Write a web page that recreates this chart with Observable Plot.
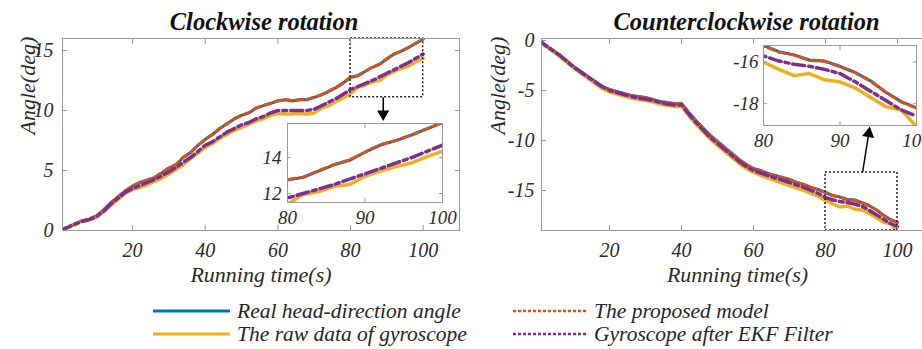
<!DOCTYPE html>
<html><head><meta charset="utf-8">
<script src="https://cdn.jsdelivr.net/npm/d3@7"></script>
<script src="https://cdn.jsdelivr.net/npm/@observablehq/plot@0.6"></script>
<style>
html,body{margin:0;padding:0;background:#fff;}
#root{position:relative;width:922px;height:349px;overflow:hidden;background:#fff;font-family:"Liberation Serif","Times New Roman",Times,Tinos,"Noto Serif","DejaVu Serif",serif;font-style:italic;}
#root > .p{position:absolute;}
.leg{position:absolute;display:flex;align-items:center;font-size:21.5px;color:#262626;white-space:nowrap;line-height:20px;height:20px;}
.leg svg{margin-right:7px;}
</style></head><body><div id="root"></div>
<script>
// ---- data ----
const time = [0,2,4,6,8,10,12,14,16,18,20,22,24,26,28,30,32,34,36,38,40,42,44,46,48,50,52,54,56,58,60,62,64,66,68,70,72,74,76,78,80,82,84,86,88,90,92,94,96,98,100];

const seriesNames = ["Real head-direction angle", "The raw data of gyroscope", "The proposed model", "Gyroscope after EKF Filter"];

// Clockwise rotation
const cwReal     = [0,0.25,0.55,0.8,0.95,1.2,1.7,2.3,2.8,3.3,3.7,4.0,4.2,4.4,4.8,5.2,5.5,6.1,6.5,7.1,7.6,8.0,8.5,8.9,9.3,9.6,9.8,10.2,10.4,10.6,10.8,10.9,10.8,10.9,10.9,11.1,11.3,11.6,11.9,12.3,12.75,12.9,13.25,13.6,13.85,14.3,14.7,14.95,15.25,15.6,15.95];
const cwProposed = [0,0.27,0.54,0.82,0.97,1.21,1.72,2.31,2.82,3.31,3.72,4.02,4.21,4.43,4.81,5.22,5.52,6.11,6.52,7.11,7.62,8.01,8.52,8.91,9.32,9.61,9.82,10.21,10.42,10.61,10.82,10.91,10.82,10.91,10.92,11.11,11.32,11.61,11.92,12.31,12.77,12.91,13.27,13.61,13.87,14.31,14.72,14.96,15.27,15.61,15.97];
const cwRaw      = [0,0.2,0.5,0.75,0.9,1.1,1.55,2.1,2.6,3.1,3.4,3.6,3.8,4.1,4.35,4.7,5.1,5.5,6.0,6.45,6.95,7.25,7.7,8.0,8.35,8.6,8.85,9.15,9.3,9.6,9.75,9.7,9.7,9.75,9.7,9.8,10.2,10.4,10.75,11.05,11.4,11.95,12.1,12.4,12.5,12.95,13.25,13.5,13.7,14.05,14.35];
const cwEKF      = [0,0.25,0.5,0.75,0.9,1.15,1.6,2.2,2.7,3.2,3.5,3.75,4.0,4.25,4.55,4.9,5.25,5.7,6.1,6.6,7.1,7.4,7.8,8.2,8.5,8.8,9.0,9.3,9.5,9.8,10.0,10.0,10.0,10.0,10.0,10.1,10.4,10.7,11.0,11.35,11.75,12.0,12.25,12.5,12.8,13.1,13.4,13.7,14.0,14.35,14.7];

// Counterclockwise rotation
const ccwReal     = [0.2,-0.4,-0.9,-1.4,-2.0,-2.6,-3.1,-3.6,-4.1,-4.6,-4.9,-5.1,-5.3,-5.5,-5.6,-5.7,-5.9,-6.1,-6.2,-6.3,-6.3,-7.2,-8.0,-8.75,-9.5,-10.1,-10.7,-11.3,-11.9,-12.4,-12.8,-13.0,-13.3,-13.5,-13.7,-13.9,-14.2,-14.4,-14.7,-14.9,-15.2,-15.5,-15.65,-15.9,-15.95,-16.2,-16.5,-16.9,-17.45,-17.9,-18.2];
const ccwProposed = [0.2,-0.42,-0.91,-1.42,-2.01,-2.62,-3.11,-3.62,-4.11,-4.62,-4.91,-5.12,-5.31,-5.52,-5.61,-5.72,-5.91,-6.12,-6.21,-6.32,-6.31,-7.22,-8.01,-8.77,-9.51,-10.12,-10.71,-11.32,-11.91,-12.42,-12.81,-13.02,-13.31,-13.52,-13.71,-13.92,-14.21,-14.42,-14.71,-14.92,-15.21,-15.52,-15.66,-15.92,-15.96,-16.22,-16.51,-16.92,-17.46,-17.92,-18.21];
const ccwRaw      = [0.2,-0.5,-1.0,-1.55,-2.15,-2.75,-3.25,-3.75,-4.3,-4.8,-5.15,-5.35,-5.55,-5.75,-5.9,-6.0,-6.15,-6.35,-6.5,-6.6,-6.6,-7.5,-8.35,-9.1,-9.85,-10.5,-11.1,-11.7,-12.3,-12.8,-13.2,-13.5,-13.75,-14.0,-14.25,-14.5,-14.75,-15.0,-15.3,-15.6,-16.0,-16.35,-16.65,-16.55,-16.85,-16.95,-17.25,-17.7,-18.15,-18.3,-19.1];
const ccwEKF      = [0.2,-0.45,-0.95,-1.45,-2.05,-2.65,-3.15,-3.65,-4.15,-4.65,-5.0,-5.2,-5.4,-5.6,-5.75,-5.85,-6.0,-6.2,-6.35,-6.45,-6.45,-7.35,-8.2,-8.95,-9.7,-10.3,-10.9,-11.5,-12.1,-12.6,-13.0,-13.25,-13.5,-13.75,-13.95,-14.2,-14.45,-14.7,-15.0,-15.3,-15.7,-15.95,-16.1,-16.2,-16.35,-16.55,-16.95,-17.4,-17.85,-18.3,-18.6];

// axes / ticks
const mainXTicks = [20,40,60,80,100];
const cwYTicks = [0,5,10,15];
const ccwYTicks = [0,-5,-10,-15];
const insetXTicks = [80,90,100];
const cwInsetYTicks = [12,14];
const ccwInsetYTicks = [-16,-18];
// zoomed regions (data units)
const cwZoomX = [80,100], cwZoomY = [11.1,16];
const ccwZoomX = [80,100], ccwZoomY = [-19,-13.2];

// ---- rendering ----
const FONT = '"Liberation Serif","Times New Roman",Times,Tinos,"Noto Serif","DejaVu Serif",serif';
const C = {real:"#0072BD", proposed:"#D95319", raw:"#EDB120", ekf:"#7E2F8E"};
const rows = vals => time.map((t,i) => ({t, v: vals[i]}));

function lineMarks(d){
  return [
    Plot.line(rows(d.real), {x:"t", y:"v", stroke:C.real, strokeWidth:3, clip:true}),
    Plot.line(rows(d.proposed), {x:"t", y:"v", stroke:C.proposed, strokeWidth:3, strokeDasharray:"7,4", clip:true}),
    Plot.line(rows(d.raw), {x:"t", y:"v", stroke:C.raw, strokeWidth:3.5, clip:true}),
    Plot.line(rows(d.ekf), {x:"t", y:"v", stroke:C.ekf, strokeWidth:3.5, strokeDasharray:"12,4,4,4", clip:true})
  ];
}
const fmt = d => String(d);
const blank = () => "";

function mainPanel(o){
  return Plot.plot({
    width:o.width, height:290, marginLeft:o.ml, marginRight:o.mr, marginTop:38, marginBottom:60,
    x:{domain:o.xDomain}, y:{domain:o.yDomain},
    style:{fontFamily:FONT, fontStyle:"italic", fontSize:"20px", color:"#2a2a2a", background:"transparent", overflow:"visible"},
    marks:[
      ...lineMarks(o.data),
      Plot.rect([{x1:o.zx[0], x2:o.zx[1], y1:o.zy[0], y2:o.zy[1]}], {x1:"x1", x2:"x2", y1:"y1", y2:"y2", fill:"none", stroke:"#222", strokeWidth:1.5, strokeDasharray:"2,2"}),
      Plot.frame({stroke:"#999"}),
      Plot.axisX(mainXTicks, {anchor:"bottom", tickSize:-5, tickPadding:17, stroke:"#999", label:null, tickFormat:fmt}),
      Plot.axisX(mainXTicks, {anchor:"top", tickSize:-5, stroke:"#999", label:null, tickFormat:blank}),
      Plot.axisY(o.yTicks, {anchor:"left", tickSize:-5, tickPadding:o.yPad, stroke:"#999", label:null, tickFormat:fmt}),
      Plot.axisY(o.yTicks, {anchor:"right", tickSize:-5, stroke:"#999", label:null, tickFormat:blank}),
      Plot.text([o.title], {text:d=>d, frameAnchor:"top", lineAnchor:"middle", dy:-16, dx:o.titleDx, fontWeight:"bold", fontSize:24.5, fill:"#111"}),
      Plot.text(["Running time(s)"], {text:d=>d, frameAnchor:"bottom", lineAnchor:"middle", dy:44, fontSize:22}),
      Plot.text(["Angle(deg)"], {text:d=>d, frameAnchor:"left", lineAnchor:"middle", dx:o.ylabDx, rotate:-90, fontSize:22}),
      Plot.link([o.arrow], {x1:"x1", y1:"y1", x2:"x2", y2:"y2", stroke:"#000", strokeWidth:1.5}),
      Plot.dot([o.arrow], {x:"x2", y:"y2", symbol:"triangle", fill:"#000", stroke:"none", r:4.5, rotate:o.arrowRot})
    ]
  });
}

function insetPanel(o){
  return Plot.plot({
    width:o.width, height:o.height, marginLeft:o.ml, marginRight:o.mr, marginTop:o.mt, marginBottom:o.mb,
    x:{domain:[80,100]}, y:{domain:o.yDomain},
    style:{fontFamily:FONT, fontStyle:"italic", fontSize:"19px", color:"#2a2a2a", background:"transparent", overflow:"visible"},
    marks:[
      Plot.frame({fill:"#fff", stroke:"none"}),
      ...lineMarks(o.data),
      Plot.frame({stroke:"#999"}),
      Plot.axisX(insetXTicks, {anchor:"bottom", tickSize:-4, tickPadding:12, stroke:"#999", label:null, tickFormat:fmt}),
      Plot.axisX(insetXTicks, {anchor:"top", tickSize:-4, stroke:"#999", label:null, tickFormat:blank}),
      Plot.axisY(o.yTicks, {anchor:"left", tickSize:-4, tickPadding:o.yPad, stroke:"#999", label:null, tickFormat:fmt}),
      Plot.axisY(o.yTicks, {anchor:"right", tickSize:-4, stroke:"#999", label:null, tickFormat:blank})
    ]
  });
}

const cwData = {real:cwReal, proposed:cwProposed, raw:cwRaw, ekf:cwEKF};
const ccwData = {real:ccwReal, proposed:ccwProposed, raw:ccwRaw, ekf:ccwEKF};

const root = document.getElementById("root");
function place(el, left, top){ el.classList.add("p"); el.style.left = left+"px"; el.style.top = top+"px"; root.appendChild(el); }

place(mainPanel({width:462, ml:62, mr:3, xDomain:[0.7,110], yDomain:[0,16], yTicks:cwYTicks, yPad:14,
  data:cwData, title:"Clockwise rotation", titleDx:3, ylabDx:-35, zx:cwZoomX, zy:cwZoomY,
  arrow:{x1:89, y1:11.1, x2:89, y2:9.7}, arrowRot:180}), 0, 0);

place(mainPanel({width:480, ml:79, mr:9, xDomain:[1.1,110], yDomain:[-19,0.2], yTicks:ccwYTicks, yPad:12,
  data:ccwData, title:"Counterclockwise rotation", titleDx:9, ylabDx:-44, zx:ccwZoomX, zy:ccwZoomY,
  arrow:{x1:90.3, y1:-13.2, x2:92.0, y2:-9.3}, arrowRot:9}), 462, 0);

place(insetPanel({width:200, height:125, ml:37, mr:8, mt:15, mb:31, yDomain:[11.5,15.9], yTicks:cwInsetYTicks, yPad:10, data:cwData}), 250, 108);
place(insetPanel({width:220, height:130, ml:41, mr:26, mt:15, mb:35, yDomain:[-19.05,-15.2], yTicks:ccwInsetYTicks, yPad:9, data:ccwData}), 722, 30);

// legend
const legendItems = [
  {name:seriesNames[0], color:C.real, dash:null, w:3, left:153, top:311, len:77},
  {name:seriesNames[1], color:C.raw, dash:null, w:3, left:153, top:334, len:77},
  {name:seriesNames[2], color:C.proposed, dash:"3,2", w:2.5, left:513, top:311, len:74},
  {name:seriesNames[3], color:C.ekf, dash:"3,2", w:2.5, left:513, top:334, len:74}
];
for (const it of legendItems){
  const div = document.createElement("div");
  div.className = "leg";
  div.style.left = it.left+"px"; div.style.top = (it.top-10)+"px";
  div.innerHTML = `<svg width="${it.len}" height="6"><line x1="0" y1="3" x2="${it.len}" y2="3" stroke="${it.color}" stroke-width="${it.w}" ${it.dash?`stroke-dasharray="${it.dash}"`:""}/></svg><span>${it.name}</span>`;
  root.appendChild(div);
}
</script></body></html>
